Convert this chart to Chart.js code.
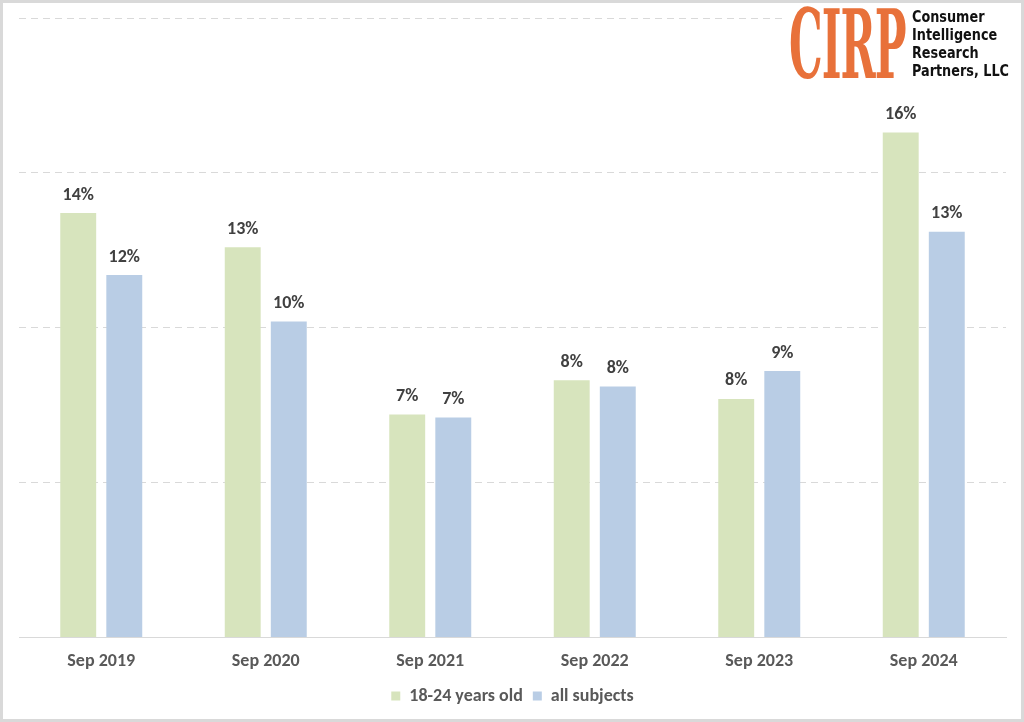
<!DOCTYPE html>
<html>
<head>
<meta charset="utf-8">
<script src="https://cdn.jsdelivr.net/npm/chart.js@4.4.1/dist/chart.umd.min.js"></script>
<style>
  html, body { margin: 0; padding: 0; background: #fff; }
  #frame {
    position: relative; width: 1024px; height: 722px; box-sizing: border-box;
    border: 3px solid #d9d9d9; background: #fff; overflow: hidden;
  }
  #wrap { position: absolute; left: 0; top: 0; width: 1018px; height: 716px; }
  #logo {
    position: absolute; left: 784px; top: 4px; width: 228px; height: 80px;
    background: #fff;
  }
  #logo .cirp {
    position: absolute; left: 2px; top: -10px;
    font-family: "DejaVu Serif", serif; font-weight: bold; font-size: 96px;
    color: #E8713A; transform: scaleX(0.44); transform-origin: left top;
    letter-spacing: -2px; line-height: 96px;
  }
  #logo .name {
    position: absolute; left: 125px; top: 1px;
    font-family: "DejaVu Sans Condensed", "DejaVu Sans", sans-serif; font-weight: bold;
    font-size: 15px; line-height: 18px; color: #111;
    transform: scaleX(0.95); transform-origin: left top; white-space: nowrap;
  }
</style>
</head>
<body>
<div id="frame">
  <div id="wrap"><canvas id="chart"></canvas></div>
  <div id="logo">
    <div class="cirp">CIRP</div>
    <div class="name">Consumer<br>Intelligence<br>Research<br>Partners, LLC</div>
  </div>
</div>
<script>
// valores (porcentaje)
const periodos = ["Sep 2019", "Sep 2020", "Sep 2021", "Sep 2022", "Sep 2023", "Sep 2024"];
const jovenes = [13.7, 12.6, 7.2, 8.3, 7.7, 16.3];
const todos = [11.7, 10.2, 7.1, 8.1, 8.6, 13.1];

const fuente = 'Calibri, Carlito, "Liberation Sans", Arial, sans-serif';

// etiquetas encima de cada barra
const etiquetas = {
    id: 'etiquetas',
    afterDatasetsDraw(chart) {
        const ctx = chart.ctx;
        ctx.save();
        ctx.font = 'bold 18px ' + fuente;
        ctx.fillStyle = '#404040';
        ctx.textAlign = 'center';
        ctx.textBaseline = 'bottom';
        chart.data.datasets.forEach((ds, i) => {
            chart.getDatasetMeta(i).data.forEach((bar, j) => {
                ctx.fillText(Math.round(ds.data[j]) + '%', bar.x, bar.y - 9);
            });
        });
        ctx.restore();
    }
};

new Chart(document.getElementById('chart'), {
    type: 'bar',
    data: {
        labels: periodos,
        datasets: [
            { label: '18-24 years old', data: jovenes, backgroundColor: '#D7E4BD' },
            { label: 'all subjects', data: todos, backgroundColor: '#B9CDE5' }
        ]
    },
    options: {
        responsive: true,
        maintainAspectRatio: false,
        animation: false,
        categoryPercentage: 0.56,
        barPercentage: 0.78,
        layout: { padding: { left: 16, right: 15, top: 15, bottom: 4 } },
        scales: {
            x: {
                grid: { display: false },
                border: { display: true, color: '#d9d9d9', width: 1 },
                ticks: {
                    color: '#595959', padding: 5,
                    font: { family: fuente, size: 18, weight: 'bold' }
                }
            },
            y: {
                min: 0, max: 20,
                ticks: { display: false, stepSize: 5 },
                border: { display: false, dash: [7, 5] },
                grid: { color: '#d9d9d9', lineWidth: 1, drawTicks: false },
                afterFit(scale) { scale.width = 0; }
            }
        },
        plugins: {
            legend: {
                position: 'bottom',
                labels: {
                    boxWidth: 9, boxHeight: 9, padding: 10, color: '#595959',
                    font: { family: fuente, size: 18, weight: 'bold' }
                }
            },
            tooltip: { enabled: false }
        }
    },
    plugins: [etiquetas]
});
</script>
</body>
</html>
